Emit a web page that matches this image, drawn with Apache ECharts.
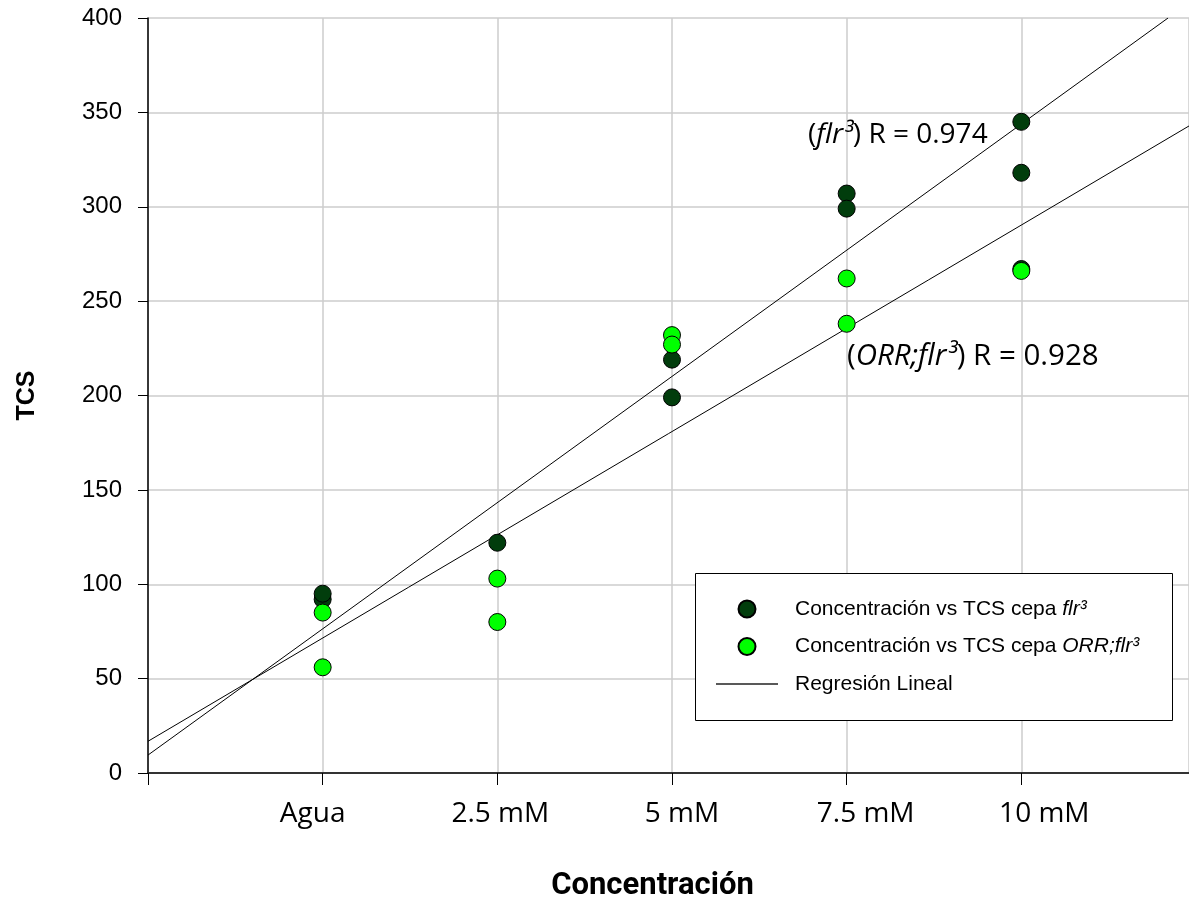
<!DOCTYPE html>
<html>
<head>
<meta charset="utf-8">
<script src="https://cdn.jsdelivr.net/npm/echarts@6/dist/echarts.min.js"></script>
<style>
  html, body { margin: 0; padding: 0; background: #fff; }
  #chart { width: 1189px; height: 902px; }
</style>
</head>
<body>
<div id="chart"></div>
<script>
// categorias del eje X (posiciones 1..5)
var categories = ['Agua', '2.5 mM', '5 mM', '7.5 mM', '10 mM'];
// TCS por concentración, cepa flr3
var flrValues = [[92, 95], [122], [219, 199], [307, 299], [345, 318, 267]];
// TCS por concentración, cepa ORR;flr3
var orrValues = [[85, 56], [103, 80], [232, 227], [262, 238], [266]];
// extremos de las rectas de regresión
var regFlrX = [0, 5.84];
var regFlrY = [9.5, 400];
var regOrrX = [0, 5.96];
var regOrrY = [16.8, 342.8];
var yTicks = [0, 50, 100, 150, 200, 250, 300, 350, 400];

// desplazamiento horizontal (px) de las etiquetas del eje X, como en el original
var labelShift = [-10, 3, 10, 19, 23];

var sans = "'Open Sans', sans-serif";

function pairs(groups) {
  var out = [];
  groups.forEach(function (g, i) {
    g.forEach(function (v) { out.push([i + 1, v]); });
  });
  return out;
}
function linePts(xs, ys) {
  return xs.map(function (x, i) { return [x, ys[i]]; });
}

var catRich = {};
labelShift.forEach(function (s, i) {
  catRich['c' + i] = {
    fontFamily: sans,
    fontSize: 28,
    color: '#000',
    padding: s >= 0 ? [0, 0, 0, 2 * s] : [0, -2 * s, 0, 0]
  };
});

var chart = echarts.init(document.getElementById('chart'));

var option = {
  animation: false,
  backgroundColor: '#fff',
  grid: { left: 148, right: 0, top: 18, bottom: 129, outerBoundsMode: 'none' },
  xAxis: [{
    type: 'value',
    min: 0,
    max: 5.96,
    interval: 1,
    name: 'Concentración',
    nameLocation: 'middle',
    nameGap: 98,
    nameTextStyle: { fontFamily: 'Roboto', fontWeight: 'bold', fontSize: 31, color: '#000', padding: [0, 32, 0, 0] },
    axisLine: { onZero: false, lineStyle: { color: '#000', width: 1.5 } },
    axisTick: { length: 12, lineStyle: { color: '#000', width: 1 } },
    axisLabel: {
      margin: 27,
      fontFamily: sans,
      fontSize: 28,
      color: '#000',
      showMaxLabel: false,
      rich: catRich,
      formatter: function (v) {
        var i = Math.round(v) - 1;
        if (!categories[i]) return '';
        return '{c' + i + '|' + categories[i] + '}';
      }
    },
    splitLine: { show: true, lineStyle: { color: '#cccccc', width: 1.5 } }
  }, {
    type: 'value',
    position: 'top',
    min: 0,
    max: 5.96,
    axisLine: { show: true, lineStyle: { color: '#333', width: 1.5 } },
    axisTick: { show: false },
    axisLabel: { show: false },
    splitLine: { show: false }
  }],
  yAxis: {
    type: 'value',
    min: yTicks[0],
    max: yTicks[yTicks.length - 1],
    interval: 50,
    name: 'TCS',
    nameLocation: 'middle',
    nameGap: 108,
    nameTextStyle: { fontFamily: 'Liberation Sans', fontWeight: 'bold', fontSize: 25, color: '#000' },
    axisLine: { show: true, lineStyle: { color: '#000', width: 1.5 } },
    axisTick: { show: true, length: 10, lineStyle: { color: '#000', width: 1 } },
    axisLabel: { margin: 26, fontFamily: 'Liberation Sans', fontSize: 24, color: '#000' },
    splitLine: { lineStyle: { color: '#cccccc', width: 1.5 } }
  },
  legend: {
    orient: 'vertical',
    left: 716,
    top: 598,
    padding: 0,
    itemGap: 15.5,
    itemWidth: 62,
    itemHeight: 17,
    symbolKeepAspect: true,
    z: 10,
    textStyle: {
      fontFamily: 'Liberation Sans',
      fontSize: 21,
      lineHeight: 22,
      color: '#000',
      padding: [0, 0, 0, 12],
      rich: {
        n: { fontFamily: 'Liberation Sans', fontSize: 21, lineHeight: 22, color: '#000' },
        i: { fontFamily: 'Liberation Sans', fontSize: 21, lineHeight: 22, fontStyle: 'italic', color: '#000' }
      }
    },
    formatter: function (name) {
      if (name === 'flr') return '{n|Concentración vs TCS cepa }{i|flr³}';
      if (name === 'orr') return '{n|Concentración vs TCS cepa }{i|ORR;flr³}';
      return name;
    },
    data: [
      'flr',
      'orr',
      { name: 'Regresión Lineal', icon: 'path://M0,0H62V1.6H0Z', itemStyle: { color: '#222' } }
    ]
  },
  graphic: [
    {
      type: 'rect',
      shape: { x: 695.5, y: 573.5, width: 477, height: 147 },
      style: { fill: '#fff', stroke: '#000', lineWidth: 1 },
      z: 8
    },
    {
      type: 'text',
      left: 808,
      top: 121,
      z: 9,
      style: {
        text: '{p|(}{i|flr³}{p|) R = 0.974}',
        rich: {
          p: { fontFamily: sans, fontSize: 28, fill: '#000' },
          i: { fontFamily: sans, fontSize: 28, fontStyle: 'italic', fill: '#000' }
        }
      }
    },
    {
      type: 'text',
      left: 847,
      top: 342,
      z: 9,
      style: {
        text: '{p|(}{i|ORR;flr³}{p|) R = 0.928}',
        rich: {
          p: { fontFamily: sans, fontSize: 29.5, fill: '#000' },
          i: { fontFamily: sans, fontSize: 29.5, fontStyle: 'italic', fill: '#000' }
        }
      }
    }
  ],
  series: [
    {
      name: 'Regresión Lineal',
      type: 'line',
      symbol: 'none',
      lineStyle: { color: '#000', width: 1 },
      itemStyle: { color: '#000' },
      data: linePts(regFlrX, regFlrY),
      z: 3
    },
    {
      name: 'Regresión Lineal',
      type: 'line',
      symbol: 'none',
      lineStyle: { color: '#000', width: 1 },
      itemStyle: { color: '#000' },
      data: linePts(regOrrX, regOrrY),
      z: 3
    },
    {
      name: 'flr',
      type: 'scatter',
      symbol: 'circle',
      symbolSize: 17,
      itemStyle: { color: '#013d0c', borderColor: '#000', borderWidth: 1, opacity: 1 },
      data: pairs(flrValues),
      z: 4
    },
    {
      name: 'orr',
      type: 'scatter',
      symbol: 'circle',
      symbolSize: 17,
      itemStyle: { color: '#00ff00', borderColor: '#000', borderWidth: 1, opacity: 1 },
      data: pairs(orrValues),
      z: 5
    }
  ]
};

chart.setOption(option);
</script>
</body>
</html>
